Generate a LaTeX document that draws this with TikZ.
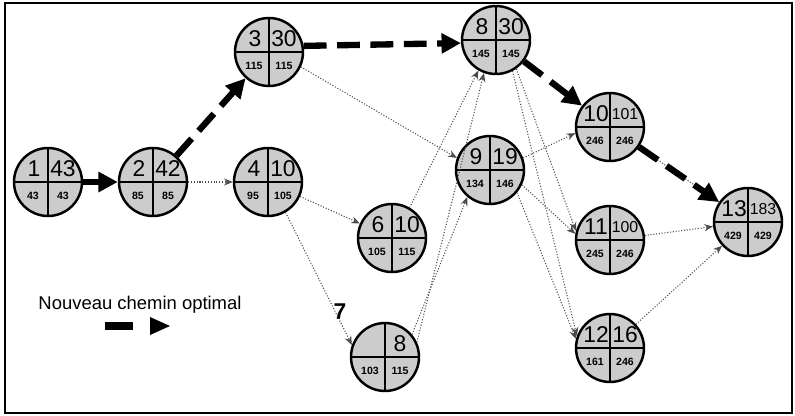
\documentclass[tikz,border=0pt]{standalone}
\usepackage{fontspec}
\setmainfont{Liberation Sans}
\usetikzlibrary{arrows.meta}
\tikzset{
  pn/.style={circle,draw,line width=1.4pt,fill=gray!40,minimum size=1.36cm,inner sep=0pt},
  topnum/.style={inner sep=0pt,font=\fontsize{13}{13}\selectfont},
  botnum/.style={inner sep=0pt,font=\fontsize{6}{6}\selectfont\bfseries},
  thinarr/.style={draw=gray!60!black,densely dotted,line width=0.6pt,-{Stealth[length=5pt,width=4pt]}},
  crit/.style={line width=3.6pt,dash pattern=on 13pt off 6pt,-{Triangle[length=11pt,width=11pt]}}
}
\newcommand\smallnum[1]{{\fontsize{9}{9}\selectfont #1}}
\newcommand\pnd[7]{%
  \node[pn] (#1) at (#2,#3) {};
  \draw[line width=1.3pt] (#1.north)--(#1.south) (#1.west)--(#1.east);
  \node[topnum] (#1tl) at ({#2-14},{#3-13}) {#4};
  \node[topnum] (#1tr) at ({#2+15},{#3-13}) {#5};
  \node[botnum] (#1bl) at ({#2-15},{#3+14}) {#6};
  \node[botnum] (#1br) at ({#2+15},{#3+14}) {#7};
}
\begin{document}
\begin{tikzpicture}[x=0.02cm,y=-0.02cm]
\useasboundingbox (0,0) rectangle (795,416);
\draw[line width=1.2pt] (5,3) rectangle (792,413);

\pnd{n1}{48}{182}{1}{43}{43}{43}
\pnd{n2}{153}{182}{2}{42}{85}{85}
\pnd{n3}{269}{52}{3}{30}{115}{115}
\pnd{n4}{268}{182}{4}{10}{95}{105}
\pnd{n8}{496}{40}{8}{30}{145}{145}
\pnd{n9}{490}{170}{9}{19}{134}{146}
\pnd{n6}{392}{238}{6}{10}{105}{115}
\pnd{n7}{385}{357}{}{8}{103}{115}
\pnd{n10}{610}{127}{10}{\smallnum{101}}{246}{246}
\pnd{n11}{610}{240}{11}{\smallnum{100}}{245}{246}
\pnd{n12}{610}{348}{12}{16}{161}{246}
\pnd{n13}{748}{222}{13}{\smallnum{183}}{429}{429}

\node[font=\fontsize{13}{13}\selectfont\bfseries] (lab7) at (340,312) {7};

% thin connectors
\draw[thinarr] (n2) -- (n4);
\draw[thinarr] (n3.-25) -- (n9.160);
\draw[thinarr] (n4) -- (n6);
\draw[thinarr] (n4.-60) -- (n7.160);
\draw[thinarr] (n6.60) -- (n8.-120);
\draw[thinarr] (n7.25) -- (n8.-110);
\draw[thinarr] (n7.40) -- (n9.-130);
\draw[thinarr] (n8.-55) -- (n11.165);
\draw[thinarr] (n8.-62) -- (n12.160);
\draw[thinarr] (n9.20) -- (n10.190);
\draw[thinarr] (n9.-25) -- (n11.170);
\draw[thinarr] (n9.-40) -- (n12.165);
\draw[thinarr] (n10.-35) -- (n13.145);
\draw[thinarr] (n11) -- (n13);
\draw[thinarr] (n12) -- (n13);

% critical path
\draw[crit] (n1) -- (n2);
\draw[crit] (n2) -- (n3);
\draw[crit] (n3.10) -- (n8.185);
\draw[crit] (n8) -- (n10);
\draw[crit] (n10) -- (n13);

% legend
\node[font=\fontsize{10.5}{10.5}\selectfont] (leg) at (140,305) {Nouveau chemin optimal};
\coordinate (la) at (105,326);
\coordinate (lb) at (133,326);
\draw[line width=4pt] (la) -- (lb);
\fill (150,317) -- (170,326) -- (150,335) -- cycle;
\end{tikzpicture}
\end{document}
